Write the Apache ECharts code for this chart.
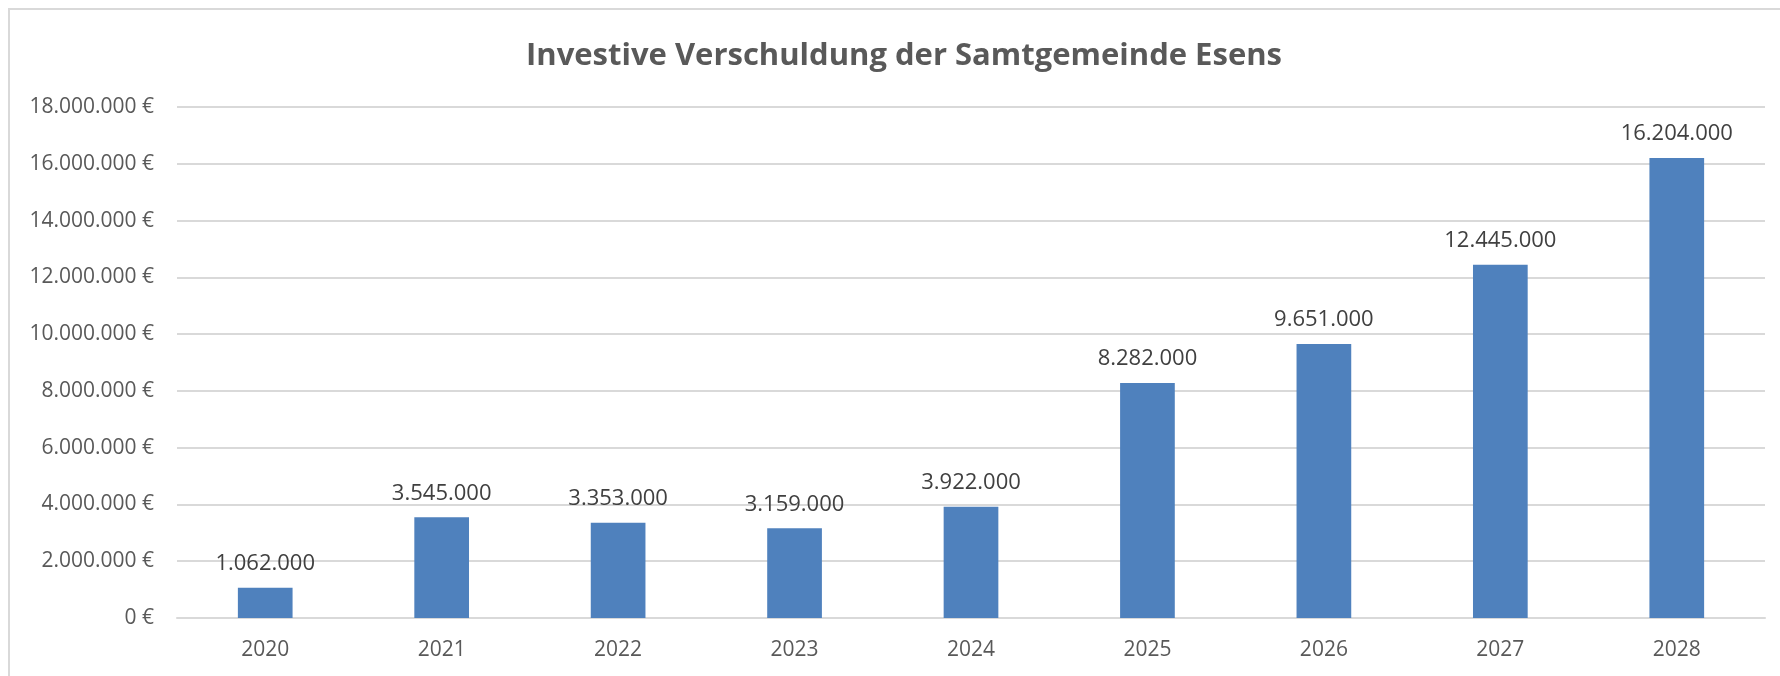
<!DOCTYPE html>
<html>
<head>
<meta charset="utf-8">
<script src="https://cdn.jsdelivr.net/npm/echarts@6/dist/echarts.min.js"></script>
<style>
html, body { margin: 0; padding: 0; background: #fff; }
#chart { width: 1780px; height: 676px; }
</style>
</head>
<body>
<div id="chart"></div>
<script>
const titleText = 'Investive Verschuldung der Samtgemeinde Esens';
const categories = ['2020', '2021', '2022', '2023', '2024', '2025', '2026', '2027', '2028'];
const values = [1062000, 3545000, 3353000, 3159000, 3922000, 8282000, 9651000, 12445000, 16204000];
const yMin = 0;
const yMax = 18000000;
const yInterval = 2000000;

function fmtDE(v) {
  return String(Math.round(v)).replace(/\B(?=(\d{3})+(?!\d))/g, '.');
}

const chart = echarts.init(document.getElementById('chart'), null, { renderer: 'canvas' });
const FONT = '"Open Sans", "Liberation Sans", sans-serif';

chart.setOption({
  animation: false,
  backgroundColor: '#ffffff',
  textStyle: { fontFamily: FONT },
  graphic: [{
    type: 'rect',
    shape: { x: 9, y: 9, width: 1800, height: 720 },
    style: { fill: 'none', stroke: '#D9D9D9', lineWidth: 2 },
    silent: true,
    z: -1
  }],
  title: {
    text: titleText,
    left: 899,
    textAlign: 'center',
    top: 36,
    textStyle: { fontFamily: FONT, fontSize: 31, fontWeight: 'bold', color: '#595959', lineHeight: 31 }
  },
  grid: { left: 177, right: 15, top: 107, bottom: 58, containLabel: false },
  xAxis: {
    type: 'category',
    data: categories,
    axisLine: { show: true, lineStyle: { color: '#D9D9D9', width: 2 } },
    axisTick: { show: false },
    axisLabel: { color: '#595959', fontSize: 21, fontFamily: FONT, margin: 22 }
  },
  yAxis: {
    type: 'value',
    min: yMin,
    max: yMax,
    interval: yInterval,
    axisLine: { show: false },
    axisTick: { show: false },
    splitLine: { lineStyle: { color: '#D9D9D9', width: 2 } },
    axisLabel: {
      color: '#595959', fontSize: 21, fontFamily: FONT, margin: 23,
      formatter: v => fmtDE(v) + ' €'
    }
  },
  series: [{
    type: 'bar',
    data: values,
    barWidth: '31%',
    itemStyle: { color: '#4F81BD' },
    label: {
      show: true,
      position: 'top',
      distance: 13,
      color: '#404040',
      fontSize: 22,
      fontFamily: FONT,
      formatter: p => fmtDE(p.value)
    }
  }]
});
</script>
</body>
</html>
